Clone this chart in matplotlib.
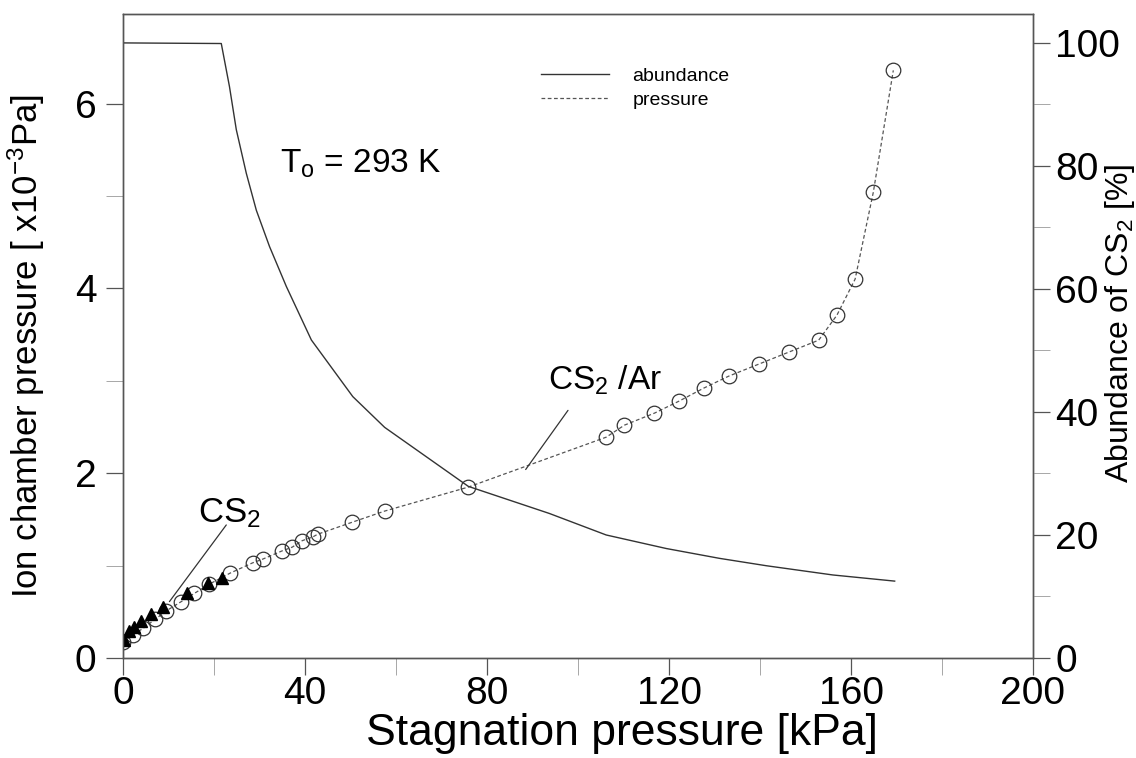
import matplotlib
matplotlib.use("Agg")
import matplotlib.pyplot as plt
from matplotlib.ticker import MultipleLocator

plt.rcParams['font.family'] = ['Liberation Sans', 'DejaVu Sans']
plt.rcParams['mathtext.fontset'] = 'custom'
plt.rcParams['mathtext.rm'] = 'Liberation Sans'
plt.rcParams['mathtext.it'] = 'Liberation Sans'

# CS2/Ar mixture: stagnation pressure [kPa] vs ion chamber pressure [1e-3 Pa]
mix_p = [0.0, 2.2, 4.4, 7.1, 9.5, 12.8, 15.7, 19.0, 23.6, 28.5, 30.7, 35.0,
         37.2, 39.4, 41.7, 42.8, 50.4, 57.5, 75.9, 106.2, 110.2, 116.8, 122.2,
         127.6, 133.1, 139.7, 146.3, 152.9, 156.9, 160.9, 164.9, 169.3]
mix_ion = [0.17, 0.25, 0.32, 0.42, 0.51, 0.61, 0.70, 0.80, 0.92, 1.03, 1.07,
           1.16, 1.20, 1.27, 1.31, 1.34, 1.47, 1.59, 1.85, 2.39, 2.52, 2.65,
           2.78, 2.92, 3.05, 3.18, 3.31, 3.44, 3.71, 4.10, 5.04, 6.36]

# pure CS2
cs2_p = [0.3, 1.4, 2.5, 3.9, 6.1, 8.9, 14.0, 18.6, 21.8]
cs2_ion = [0.20, 0.29, 0.34, 0.40, 0.48, 0.55, 0.70, 0.81, 0.87]

# abundance of CS2 [%]
abund_p = [0, 21.6, 23.4, 24.9, 27.1, 29.3, 32.2, 35.9, 41.4, 50.5, 57.5,
           75.9, 93.7, 106.2, 119.4, 131.1, 141.4, 156.0, 169.6]
abund_pct = [100, 99.9, 92.9, 85.9, 78.8, 72.8, 66.9, 60.4, 51.7, 42.5, 37.5,
             27.9, 23.5, 20.0, 17.8, 16.2, 15.0, 13.5, 12.5]

# pointer lines for the labels (data coords, left axis)
cs2_ptr = [(22.7, 1.44), (10.2, 0.61)]
mix_ptr = [(97.8, 2.68), (88.5, 2.04)]

fig = plt.figure(figsize=(11.36, 7.58), dpi=100)
ax = fig.add_axes([123 / 1136, 1 - 658 / 758, 910 / 1136, 644 / 758])
ax2 = ax.twinx()

spine_col = '#555555'

# pressure curve
press_line, = ax.plot(mix_p, mix_ion, color='#555555', lw=0.9,
                      dashes=(3, 2), zorder=2)
ax.plot(mix_p, mix_ion, ls='none', marker='o', ms=10.5, mfc='none',
        mec='#333333', mew=0.9, zorder=3)
ax.plot(cs2_p, cs2_ion, ls='none', marker='^', ms=8, color='black', zorder=4)

# abundance curve
abund_line, = ax2.plot(abund_p, abund_pct, color='#333333', lw=1.0)

ax.set_xlim(0, 200)
ax.set_ylim(0, 6.97)
ax2.set_ylim(0, 104.7)

ax.xaxis.set_major_locator(MultipleLocator(40))
ax.xaxis.set_minor_locator(MultipleLocator(20))
ax.yaxis.set_major_locator(MultipleLocator(2))
ax.yaxis.set_minor_locator(MultipleLocator(1))
ax2.yaxis.set_major_locator(MultipleLocator(20))
ax2.yaxis.set_minor_locator(MultipleLocator(10))

for a in (ax, ax2):
    for s in a.spines.values():
        s.set_color(spine_col)
        s.set_linewidth(1.0)
    a.tick_params(which='major', direction='out', length=12, width=0.9,
                  color=spine_col, labelsize=28)
    a.tick_params(which='minor', direction='out', length=12, width=0.6,
                  color='#999999')
ax.tick_params(axis='x', pad=1)
ax.tick_params(axis='y', pad=7)
ax2.tick_params(axis='y', pad=4)

ax.set_xlabel('Stagnation pressure [kPa]', fontsize=32)
ax.xaxis.set_label_coords(0.548, -0.086)
ax.set_ylabel(r'Ion chamber pressure [ x10$^{\mathregular{-3}}$Pa]', fontsize=25)
ax.yaxis.set_label_coords(-0.083, 0.485)
ax2.set_ylabel(r'Abundance of CS$_{\mathregular{2}}$ [%]', fontsize=23)
ax2.yaxis.set_label_coords(1.077, 0.52)

ax.text(34.6, 5.25, r'T$_{\mathregular{o}}$ = 293 K', fontsize=24,
        va='baseline')
ax.text(16.4, 1.47, r'CS$_{\mathregular{2}}$', fontsize=25, va='baseline')
ax.text(93.3, 2.90, r'CS$_{\mathregular{2}}$ /Ar', fontsize=24, va='baseline')

for ptr in (cs2_ptr, mix_ptr):
    ax.annotate('', xy=ptr[1], xytext=ptr[0],
                arrowprops=dict(arrowstyle='-', color='#333333', lw=0.9,
                                shrinkA=0, shrinkB=0))

ax2.legend([abund_line, press_line], ['abundance', 'pressure'],
           frameon=False, loc='upper left', bbox_to_anchor=(0.440, 0.945),
           fontsize=14, handlelength=3.5, handletextpad=1.2,
           labelspacing=0.35)

plt.savefig('out.png', dpi=100)
plt.close()
